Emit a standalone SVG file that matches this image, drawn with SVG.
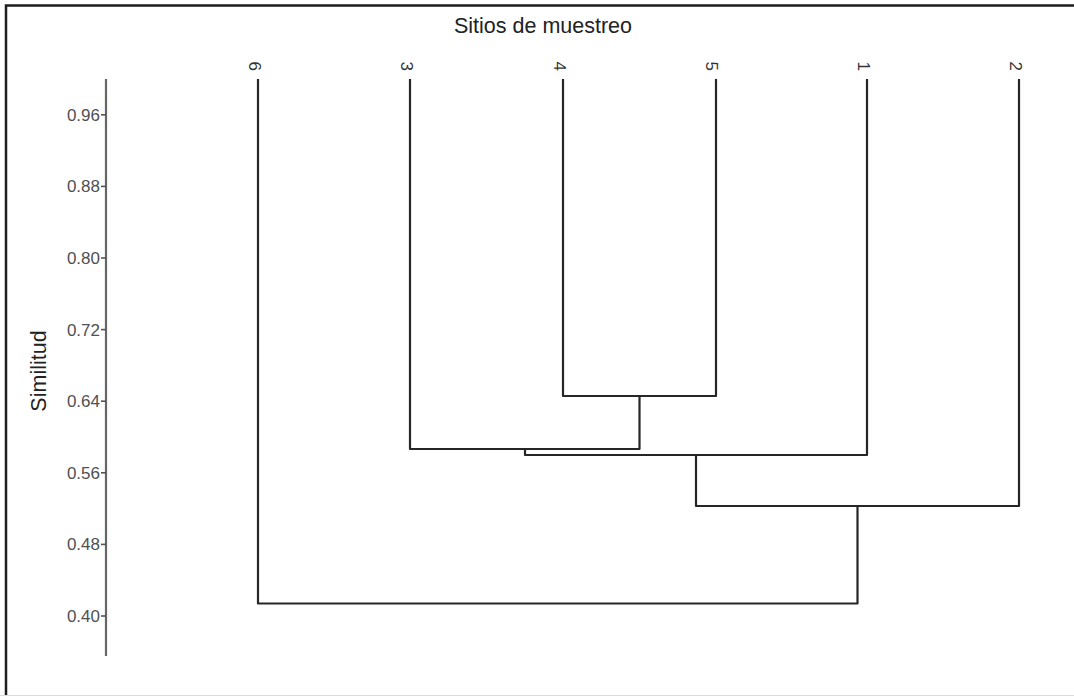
<svg xmlns="http://www.w3.org/2000/svg" width="1074" height="696" viewBox="0 0 1074 696">
<style>
.frame{stroke:#1e1e1e;stroke-width:2.5;fill:none}
.axis{stroke:#666;stroke-width:2.2;fill:none}
.tick{stroke:#555;stroke-width:1.6}
.tl{font-family:"Liberation Sans",Arial,sans-serif;font-size:17px;fill:#505050;text-anchor:end}
.leaf{font-family:"Liberation Sans",Arial,sans-serif;font-size:17px;fill:#333;text-anchor:end}
.title{font-family:"Liberation Sans",Arial,sans-serif;font-size:21.5px;fill:#222;text-anchor:middle}
.br{stroke:#262626;stroke-width:2.2;fill:none;stroke-linejoin:round}
</style>
<rect width="1074" height="696" fill="#fff"/>
<g id="frame">
<path class="frame" d="M6,696 V5.5 H1074"/>
<line x1="0" y1="695.5" x2="1074" y2="695.5" stroke="#ddd" stroke-width="1"/>
</g>
<text id="title" class="title" x="543" y="33">Sitios de muestreo</text>
<g id="axis">
<line class="axis" x1="106" y1="79" x2="106" y2="656"/>
<g class="tick">
<line x1="101" y1="114.8" x2="106" y2="114.8"/>
<line x1="101" y1="186.4" x2="106" y2="186.4"/>
<line x1="101" y1="258" x2="106" y2="258"/>
<line x1="101" y1="329.6" x2="106" y2="329.6"/>
<line x1="101" y1="401.2" x2="106" y2="401.2"/>
<line x1="101" y1="472.8" x2="106" y2="472.8"/>
<line x1="101" y1="544.4" x2="106" y2="544.4"/>
<line x1="101" y1="616" x2="106" y2="616"/>
</g>
<text class="tl" x="100" y="120.8">0.96</text>
<text class="tl" x="100" y="192.4">0.88</text>
<text class="tl" x="100" y="264">0.80</text>
<text class="tl" x="100" y="335.6">0.72</text>
<text class="tl" x="100" y="407.2">0.64</text>
<text class="tl" x="100" y="478.8">0.56</text>
<text class="tl" x="100" y="550.4">0.48</text>
<text class="tl" x="100" y="622">0.40</text>
<text class="title" transform="translate(46,371) rotate(-90)" x="0" y="0">Similitud</text>
</g>
<g id="leaf-6"><text class="leaf" transform="translate(249,71) rotate(90)">6</text></g>
<g id="leaf-3"><text class="leaf" transform="translate(401,71) rotate(90)">3</text></g>
<g id="leaf-4"><text class="leaf" transform="translate(554,71) rotate(90)">4</text></g>
<g id="leaf-5"><text class="leaf" transform="translate(706,71) rotate(90)">5</text></g>
<g id="leaf-1"><text class="leaf" transform="translate(858,71) rotate(90)">1</text></g>
<g id="leaf-2"><text class="leaf" transform="translate(1010,71) rotate(90)">2</text></g>
<g id="connectors">
<path class="br" d="M563,79 V396 H716 V79"/>
<path class="br" d="M410,79 V449 H639.5 V396"/>
<path class="br" d="M525,449 V455 H867 V79"/>
<path class="br" d="M696,455 V506 H1019 V79"/>
<path class="br" d="M857.5,506 V603.5 H258 V79"/>
</g>
</svg>
